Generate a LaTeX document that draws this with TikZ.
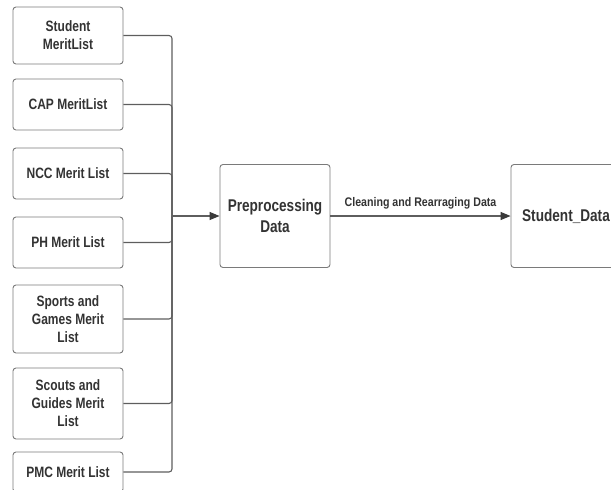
\documentclass[tikz,border=0pt]{standalone}
\usepackage{fontspec}
\setmainfont{Liberation Sans}[FakeStretch=0.8]
\newfontfamily\labelfont{Liberation Sans}[FakeStretch=0.85]
\usetikzlibrary{arrows.meta}
\definecolor{txt}{HTML}{333333}
\definecolor{ln}{HTML}{5E5E5E}
\definecolor{bx}{HTML}{7A7A7A}
\definecolor{tip}{HTML}{3A3A3A}
\tikzset{
  srcbox/.style={draw=bx, line width=0.9pt, rounded corners=3pt, minimum width=110pt,
    align=center, text=txt, font=\fontsize{15}{18}\selectfont\bfseries, inner sep=0pt, fill=white},
  bigbox/.style={draw=bx, line width=0.9pt, rounded corners=3pt, minimum width=110pt,
    minimum height=103pt, align=center, text=txt, font=\fontsize{17}{20.5}\selectfont\bfseries, inner sep=0pt},
  conn/.style={draw=ln, line width=1.1pt, rounded corners=3pt},
  arr/.style={draw=ln, line width=1.1pt, -{Triangle[length=10pt,width=8pt,color=tip]}},
  lbl/.style={text=txt, font=\labelfont\fontsize{12.5}{15}\selectfont\bfseries, inner sep=0pt}
}
\begin{document}
\begin{tikzpicture}[x=1pt,y=-1pt]
\useasboundingbox (0,0) rectangle (611,490);
\clip (0,0) rectangle (611,490);
\node[srcbox, minimum height=57pt] (b1) at (68,35.5) {Student\\MeritList};
\node[srcbox, minimum height=51pt] (b2) at (68,104.5) {CAP MeritList};
\node[srcbox, minimum height=51pt] (b3) at (68,173.5) {NCC Merit List};
\node[srcbox, minimum height=51pt] (b4) at (68,242.5) {PH Merit List};
\node[srcbox, minimum height=68pt] (b5) at (68,319) {Sports and\\Games Merit\\List};
\node[srcbox, minimum height=71pt] (b6) at (68,403.5) {Scouts and\\Guides Merit\\List};
\node[srcbox, minimum height=40pt] (b7) at (68,472) {PMC Merit List};
\node[bigbox] (pre) at (275,216) {Preprocessing\\Data};
\node[bigbox] (sd) at (566,216) {Student\_Data};
\coordinate (j) at (172,216);
\foreach \b in {b1,b2,b3,b4,b5,b6,b7} {
  \draw[conn] (\b.east) -| (j);
}
\draw[arr] (j) -- (pre.west);
\draw[arr] (pre.east) -- node[lbl, above=6pt] {Cleaning and Rearraging Data} (sd.west);
\end{tikzpicture}
\end{document}
